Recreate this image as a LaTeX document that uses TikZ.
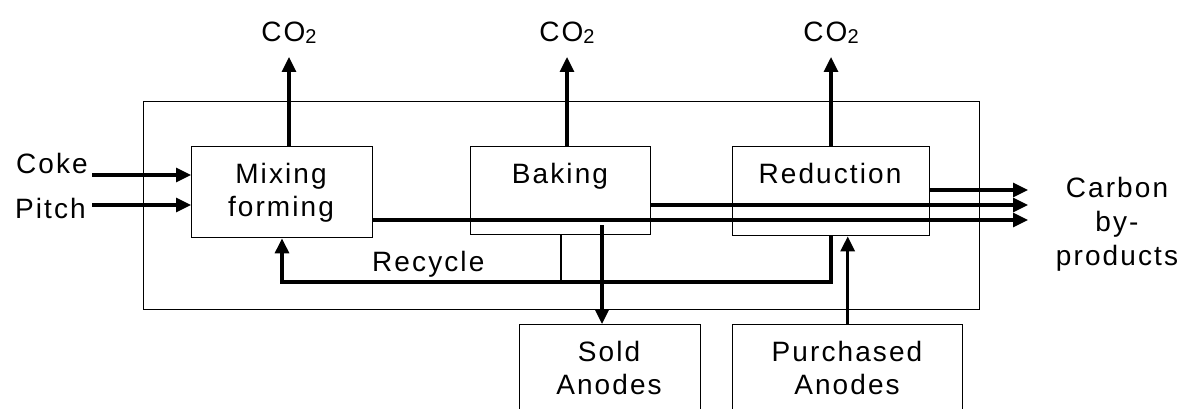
\documentclass[tikz,border=0pt]{standalone}
\usepackage{fontspec}
\setmainfont{Liberation Sans}[LetterSpace=7.5]
\usetikzlibrary{arrows.meta}
\newcommand{\cotwo}{CO\raisebox{-1.5pt}{\fontsize{20}{20}\selectfont 2}}
\begin{document}
\begin{tikzpicture}[x=1pt,y=-1pt,
  font=\fontsize{28}{33}\selectfont,
  box/.style={draw, line width=1.4pt, inner sep=0pt, anchor=north west},
  arr/.style={line width=3.2pt, -{Triangle[length=15pt,width=14pt]}},
  thinline/.style={line width=1.4pt},
  lbl/.style={anchor=base, inner sep=0pt}]
\useasboundingbox (0,0) rectangle (1182,409);
% boxes
\node[box, minimum width=836pt, minimum height=208pt] (outer) at (143,101) {};
\node[box, minimum width=181pt, minimum height=91pt] (mix) at (191,146) {};
\node[box, minimum width=180pt, minimum height=88pt] (bake) at (470,146) {};
\node[box, minimum width=197pt, minimum height=89pt] (red) at (732,146) {};
\node[box, minimum width=181pt, minimum height=120pt] (sold) at (519,324) {};
\node[box, minimum width=230pt, minimum height=120pt] (pur) at (732,324) {};
% texts
\node[lbl, anchor=base east] (coke) at (88,173) {Coke};
\node[lbl, anchor=base east] (pitch) at (86,218) {Pitch};
\node[lbl] (mixt1) at (281,183) {Mixing};
\node[lbl] (mixt2) at (281,216) {forming};
\node[lbl] (baket) at (560,183) {Baking};
\node[lbl] (redt) at (830,183) {Reduction};
\node[lbl, anchor=base west] (rect) at (372,271) {Recycle};
\node[lbl] (soldt1) at (609,361) {Sold};
\node[lbl] (soldt2) at (609,394) {Anodes};
\node[lbl] (purt1) at (847,361) {Purchased};
\node[lbl] (purt2) at (847,394) {Anodes};
\node[lbl] (cb1) at (1117,197) {Carbon};
\node[lbl] (cb2) at (1117,231) {by-};
\node[lbl] (cb3) at (1117,265) {products};
\node[lbl] (co1) at (289,42) {\cotwo};
\node[lbl] (co2) at (567,42) {\cotwo};
\node[lbl] (co3) at (831,42) {\cotwo};
% coordinates
\coordinate (cokes) at (92,175);
\coordinate (pitchs) at (92,205);
\coordinate (outx) at (1028,0);
\coordinate (sa) at (602,225);
% inputs
\draw[arr] (cokes) -- (cokes -| mix.west);
\draw[arr] (pitchs) -- (pitchs -| mix.west);
% CO2
\draw[arr] (mix.north -| 289,0) -- (289,57);
\draw[arr] (bake.north -| 567,0) -- (567,57);
\draw[arr] (red.north -| 831,0) -- (831,57);
% outputs
\draw[arr] (mix.east |- 0,220) -- (outx |- 0,220);
\draw[arr] (bake.east |- 0,205) -- (outx |- 0,205);
\draw[arr] (red.east |- 0,190) -- (outx |- 0,190);
% recycle
\draw[arr] (red.south -| 831,0) |- (282,282) -- (mix.south -| 282,0);
\draw[thinline] (bake.south -| 561,0) -- (561,282);
% sold / purchased
\draw[arr] (sa) -- (sa |- sold.north);
\draw[arr] (pur.north) -- (pur.north |- red.south);
\end{tikzpicture}
\end{document}
